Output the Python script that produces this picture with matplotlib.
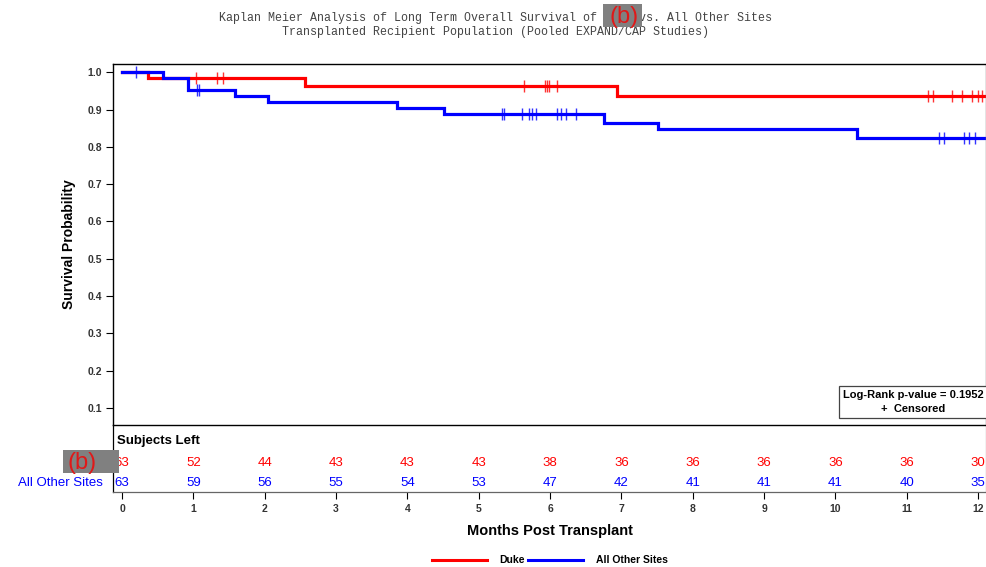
import numpy as np
import matplotlib.pyplot as plt
from matplotlib.patches import Rectangle

plt.rcParams['font.family'] = ['Liberation Sans', 'DejaVu Sans']

# Kaplan-Meier step functions (event times in months, survival after each step)
duke_t = [0.0, 0.36, 2.57, 6.94]
duke_s = [1.0, 0.984, 0.962, 0.935]
duke_cens = [1.04, 1.33, 1.42, 5.64, 5.93, 5.96, 5.99, 6.09,
             11.29, 11.37, 11.64, 11.78, 11.92, 12.0, 12.06]

other_t = [0.0, 0.58, 0.93, 1.59, 2.05, 3.86, 4.52, 6.75, 7.51, 10.30]
other_s = [1.0, 0.984, 0.952, 0.935, 0.919, 0.903, 0.887, 0.863, 0.847, 0.823]
other_cens = [0.2, 1.05, 1.08, 5.32, 5.35, 5.61, 5.70, 5.75, 5.80,
              6.10, 6.15, 6.22, 6.36, 11.45, 11.52, 11.80, 11.87, 11.96]

months = list(range(13))
duke_risk = [63, 52, 44, 43, 43, 43, 38, 36, 36, 36, 36, 36, 30]
other_risk = [63, 59, 56, 55, 54, 53, 47, 42, 41, 41, 41, 40, 35]

RED = '#ff0000'
BLUE = '#0000ff'
t_end = 12.11


def km_value(t, times, surv):
    i = np.searchsorted(times, t, side='right') - 1
    return np.array(surv)[i]


fig = plt.figure(figsize=(9.87, 5.67), dpi=100)
tab = fig.add_axes([0.1145, 0.1323, 0.8845, 0.1181])
ax = fig.add_axes([0.1145, 0.2504, 0.8845, 0.6367], sharex=tab)

for times, surv, cens, col in [(duke_t, duke_s, duke_cens, RED),
                               (other_t, other_s, other_cens, BLUE)]:
    ax.step(list(times) + [t_end], list(surv) + [surv[-1]], where='post',
            color=col, lw=2.3, solid_joinstyle='miter')
    ax.plot(cens, km_value(np.array(cens), times, surv), ls='none',
            marker='|', ms=8, mew=1.0, color=col, alpha=0.8)

ax.set_xlim(-0.126, t_end)
ax.set_ylim(0.0544, 1.022)
yt = np.arange(0.1, 1.01, 0.1)
ax.set_yticks(yt)
ax.set_yticklabels([f'{v:.1f}' for v in yt], fontsize=7.5,
                   fontweight='bold', color='#333333')
ax.tick_params(axis='y', length=5, width=0.8, pad=3)
ax.tick_params(axis='x', bottom=False, labelbottom=False)
for s in ax.spines.values():
    s.set_linewidth(1.0)
    s.set_color('black')
ax.spines['right'].set_color('#777777')
ax.set_ylabel('Survival Probability', fontsize=10, fontweight='bold',
              labelpad=8)

# p-value box
ax.text(0.997, 0.064, 'Log-Rank p-value = 0.1952\n+  Censored',
        transform=ax.transAxes, ha='right', va='center', fontsize=8,
        fontweight='bold', linespacing=1.6, multialignment='center',
        bbox=dict(boxstyle='square,pad=0.35', fc='white', ec='#444444', lw=0.9))

# number at risk table
tab.set_ylim(0, 1)
tab.set_yticks([])
for s in tab.spines.values():
    s.set_linewidth(0.9)
tab.spines['bottom'].set_color('#666666')
tab.spines['right'].set_color('#999999')
tab.spines['top'].set_visible(False)
tab.text(0.004, 0.76, 'Subjects Left', transform=tab.transAxes,
         fontsize=9.5, fontweight='bold', va='center', ha='left')
for m, d, o in zip(months, duke_risk, other_risk):
    tab.text(m, 0.43, str(d), color=RED, ha='center', va='center', fontsize=9.5)
    tab.text(m, 0.13, str(o), color=BLUE, ha='center', va='center', fontsize=9.5)
tab.text(-0.0115, 0.13, 'All Other Sites', transform=tab.transAxes,
         color=BLUE, ha='right', va='center', fontsize=9.5)
tab.set_xticks(months)
tab.set_xticklabels([str(m) for m in months], fontsize=7.5, fontweight='bold',
                    color='#333333')
tab.tick_params(axis='x', length=5, width=0.8, pad=4)
tab.set_xlabel('Months Post Transplant', fontsize=10.5, fontweight='bold',
               labelpad=7)

# title
fig.text(0.5017, 0.968, 'Kaplan Meier Analysis of Long Term Overall Survival of Duke vs. All Other Sites',
         family='Liberation Mono', fontsize=8.4, color='#444444',
         ha='center', va='center')
fig.text(0.502, 0.943, 'Transplanted Recipient Population (Pooled EXPAND/CAP Studies)',
         family='Liberation Mono', fontsize=8.4, color='#444444',
         ha='center', va='center')

# redaction boxes
for x0, y0, w, h, tx in [(603, 4, 39, 23, 624), (63, 450, 56, 23, 82)]:
    fig.patches.append(Rectangle((x0 / 987, 1 - (y0 + h) / 567), w / 987, h / 567,
                                 transform=fig.transFigure, fc='#808080',
                                 ec='none', zorder=10))
    fig.text(tx / 987, 1 - (y0 + h / 2 + 2) / 567, '(b)',
             color='#e01818', fontsize=17, ha='center', va='center', zorder=11)

# legend
handles = [plt.Line2D([], [], color=RED, lw=2.2),
           plt.Line2D([], [], color=BLUE, lw=2.2)]
fig.legend(handles, ['Duke', 'All Other Sites'], loc='center',
           bbox_to_anchor=(0.557, 0.012), ncol=2, frameon=False,
           prop={'size': 7.5, 'weight': 'bold'}, handlelength=5.3,
           handletextpad=1.2, columnspacing=0.3)

fig.savefig('out.png', dpi=100)
